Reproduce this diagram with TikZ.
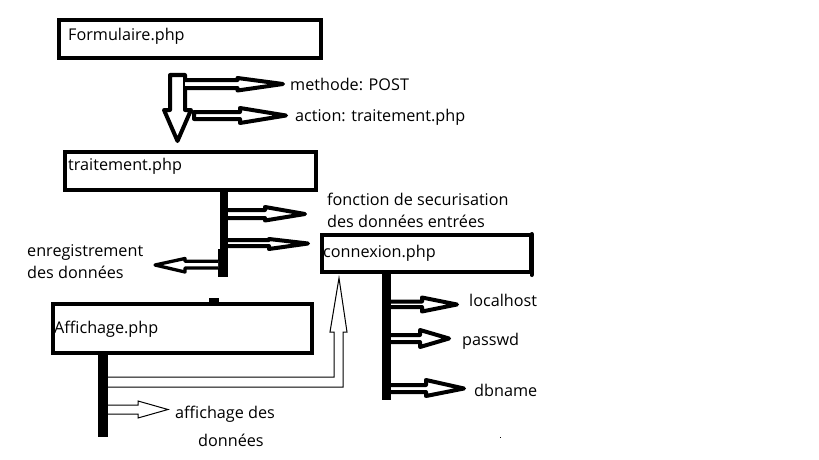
\documentclass[tikz,border=0pt]{standalone}
\usepackage{fontspec}
\setmainfont{Open Sans}
\begin{document}
\begin{tikzpicture}[x=1pt,y=-1pt,
  box/.style={draw, line width=4pt, inner sep=0pt, rectangle},
  lbl/.style={anchor=base west, inner sep=0pt, font=\fontsize{16.2}{19}\selectfont},
  fat/.style={draw, line width=4pt, fill=white, line join=round},
  thin/.style={draw, line width=1pt, line join=miter},
  bar/.style={fill=black}]
\useasboundingbox (0,0) rectangle (819,460);
\fill[white] (0,0) rectangle (819,460);

% boxes
\node[box, minimum width=262pt, minimum height=38pt] (form) at (190,39) {};
\node[box, minimum width=251pt, minimum height=38pt] (trait) at (190.5,171) {};
\node[box, minimum width=209pt, minimum height=37pt] (conn) at (426.5,253.5) {};
\node[box, minimum width=259pt, minimum height=49pt] (affi) at (182.5,328.5) {};
\draw[line width=4pt, line cap=round] (531.5,234) -- (531.5,275);

% box labels
\node[lbl] (tform) at (68,41) {Formulaire.php};
\node[lbl] (ttrait) at (68,170) {traitement.php};
\node[lbl] (tconn) at (323,257) {connexion.php};
\node[lbl] (taffi) at (54,333) {Affichage.php};

% bars
\fill[bar] (220,190) rectangle (228,277);
\fill[bar] (218,249) rectangle (228,277);
\fill[bar] (382,272) rectangle (391,400);
\fill[bar] (98,355) rectangle (108,437);
\fill[bar] (209,298) rectangle (219,302);

% down arrow Formulaire -> traitement
\draw[fat] (170,75) -- (185,75) -- (185,110) -- (191,110) -- (177.5,141) -- (164,110) -- (170,110) -- cycle;
% methode / action arrows
\draw[fat] (185,80) -- (237.5,80) -- (237.5,78) -- (283,84) -- (237.5,90.5) -- (237.5,88) -- (185,88);
\draw[fat] (194,112) -- (240,112) -- (240,108) -- (286,115.5) -- (240,123) -- (240,119) -- (194,119) -- cycle;
\node[lbl] (tmeth) at (290,90) {methode: POST};
\node[lbl] (tact) at (295,121) {action: traitement.php};

% traitement branches
\draw[fat] (228,210) -- (265,210) -- (265,207) -- (305,214) -- (265,220.5) -- (265,218) -- (228,218);
\draw[fat] (228,240) -- (269,240) -- (269,239) -- (308,243.5) -- (269,249) -- (269,246) -- (228,246);
\draw[fat, line width=3.3pt] (218,261.2) -- (185,261.2) -- (185,258.5) -- (155,265) -- (185,272) -- (185,268) -- (218,268);
\node[lbl] (tfonc1) at (327,205) {fonction de securisation};
\node[lbl] (tfonc2) at (327,227) {des données entrées};
\node[lbl] (tenr1) at (27,256) {enregistrement};
\node[lbl] (tenr2) at (27,278) {des données};

% connexion branches
\draw[fat] (391,301.5) -- (422,301.5) -- (422,297.5) -- (457,304.5) -- (422,311.5) -- (422,307) -- (391,307);
\draw[fat] (391,335) -- (420,335) -- (420,330) -- (449,338.5) -- (420,347) -- (420,342) -- (391,342);
\draw[fat] (391,385) -- (426,385) -- (426,380) -- (464,388.5) -- (426,396) -- (426,392) -- (391,392);
\node[lbl] (tlocal) at (469,306) {localhost};
\node[lbl] (tpass) at (462,345) {passwd};
\node[lbl] (tdb) at (474,396) {dbname};

% Affichage branches (thin hollow arrows)
\draw[thin] (108,387) -- (343,387) -- (343,332) -- (347,332) -- (339,278) -- (330,332) -- (334,332) -- (334,377) -- (108,377);
\draw[thin] (108,405) -- (138,405) -- (138,401) -- (168,409.5) -- (138,418) -- (138,414) -- (108,414);
\node[lbl] (taff1) at (175,418) {affichage des};
\node[lbl] (taff2) at (198,446) {données};

% stray dot
\fill (499.5,436.5) rectangle (501,438);
\end{tikzpicture}
\end{document}
